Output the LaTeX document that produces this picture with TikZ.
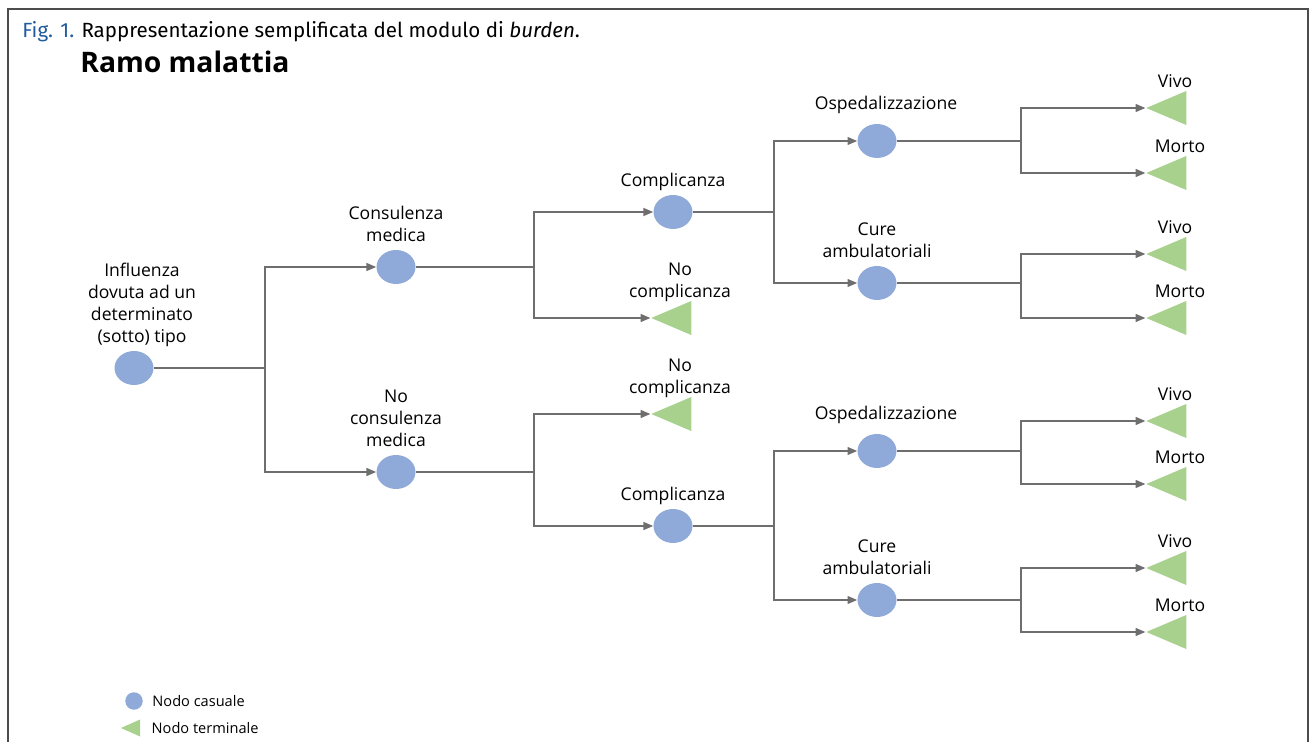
\documentclass[tikz,border=0pt]{standalone}
\usepackage{fontspec}
\setmainfont{Open Sans}
\newfontfamily\captionfont{Fira Sans}
\usetikzlibrary{positioning, arrows.meta, shapes.geometric}

\definecolor{chancecol}{HTML}{8FA9D9}
\definecolor{termcol}{HTML}{A9D18E}
\definecolor{linecol}{HTML}{6E6E6E}
\definecolor{figblue}{HTML}{1F5C9E}

\tikzset{
  chance/.style={ellipse, fill=chancecol, inner sep=0pt, minimum width=0.78cm, minimum height=0.68cm},
  terminal/.style={isosceles triangle, isosceles triangle stretches, shape border rotate=180, fill=termcol, inner sep=0pt, minimum width=0.68cm, minimum height=0.8cm},
  lab/.style={font=\fontsize{10}{12.5}\selectfont, align=center, inner sep=1pt, text depth=0pt},
  stem/.style={draw=linecol, line width=0.8pt},
  branch/.style={stem, -{Triangle[length=5.5pt,width=4.5pt]}},
}

\begin{document}
\begin{tikzpicture}[x=0.02cm, y=-0.02cm, label distance=3.5pt]
    \useasboundingbox (0,0) rectangle (1311,742);
    \draw[line width=1.1pt, draw=black!70] (8,742) -- (8,9) -- (1308,9) -- (1308,742);

    \node[anchor=west, inner sep=0pt, font=\captionfont\fontsize{11.7}{13}\selectfont] (caption) at (22,32) {\textcolor{figblue}{Fig. 1.} Rappresentazione semplificata del modulo di \textit{burden}.};
    \node[anchor=west, inner sep=0pt, font=\bfseries\fontsize{16.1}{18}\selectfont] (heading) at (80,62) {Ramo malattia};

    % chance nodes
    \node[chance, label={[lab, xshift=0.16cm]90:Influenza\\dovuta ad un\\determinato\\(sotto) tipo}] (flu) at (134,368) {};
    \node[chance, label={[lab]90:Consulenza\\medica}] (cm) at (396,267) {};
    \node[chance, label={[lab]90:No\\consulenza\\medica}] (ncm) at (396,472) {};
    \node[chance, label={[lab]90:Complicanza}] (comp1) at (673,212) {};
    \node[chance, label={[lab]90:Complicanza}] (comp2) at (673,526) {};
    \node[chance, label={[lab, xshift=0.18cm, label distance=7pt]90:Ospedalizzazione}] (osp1) at (877,141) {};
    \node[chance, label={[lab]90:Cure\\ambulatoriali}] (amb1) at (877,283) {};
    \node[chance, label={[lab, xshift=0.18cm, label distance=7pt]90:Ospedalizzazione}] (osp2) at (877,451) {};
    \node[chance, label={[lab]90:Cure\\ambulatoriali}] (amb2) at (877,600) {};

    % terminal nodes
    \node[terminal, label={[lab]90:No\\complicanza}] (nocomp1) at (680,318) {};
    \node[terminal, label={[lab]90:No\\complicanza}] (nocomp2) at (680,414) {};
    \foreach \n/\y in {osp1/108, amb1/254, osp2/421, amb2/568} {
        \node[terminal, label={[lab]90:Vivo}] (\n v) at (1175,\y) {};
    }
    \foreach \n/\y in {osp1/173, amb1/318, osp2/484, amb2/632} {
        \node[terminal, label={[lab, xshift=0.1cm]90:Morto}] (\n m) at (1175,\y) {};
    }

    % split points
    \coordinate (s0) at (265,368);
    \coordinate (s1) at (534,267);
    \coordinate (s2) at (534,472);
    \coordinate (s3) at (774,212);
    \coordinate (s4) at (774,526);

    \draw[stem] (flu) -- (s0);
    \draw[branch] (s0) |- (cm);
    \draw[branch] (s0) |- (ncm);

    \draw[stem] (cm) -- (s1);
    \draw[branch] (s1) |- (comp1);
    \draw[branch] (s1) |- (nocomp1);

    \draw[stem] (ncm) -- (s2);
    \draw[branch] (s2) |- (nocomp2);
    \draw[branch] (s2) |- (comp2);

    \draw[stem] (comp1) -- (s3);
    \draw[branch] (s3) |- (osp1);
    \draw[branch] (s3) |- (amb1);

    \draw[stem] (comp2) -- (s4);
    \draw[branch] (s4) |- (osp2);
    \draw[branch] (s4) |- (amb2);

    \foreach \n in {osp1, amb1, osp2, amb2} {
        \coordinate (\n s) at ([xshift=2.88cm]\n);
        \draw[stem] (\n) -- (\n s);
        \draw[branch] (\n s) |- (\n v);
        \draw[branch] (\n s) |- (\n m);
    }

    % legend
    \node[circle, fill=chancecol, inner sep=0pt, minimum size=0.35cm] (keychance) at (134,701) {};
    \node[right=0.18cm of keychance, inner sep=0pt, font=\fontsize{8.3}{10}\selectfont] (keychancetext) {Nodo casuale};
    \node[terminal, minimum width=0.34cm, minimum height=0.38cm] (keyterm) at (134.5,728) {};
    \node[right=0.22cm of keyterm, inner sep=0pt, font=\fontsize{8.3}{10}\selectfont] (keytermtext) {Nodo terminale};
\end{tikzpicture}
\end{document}
